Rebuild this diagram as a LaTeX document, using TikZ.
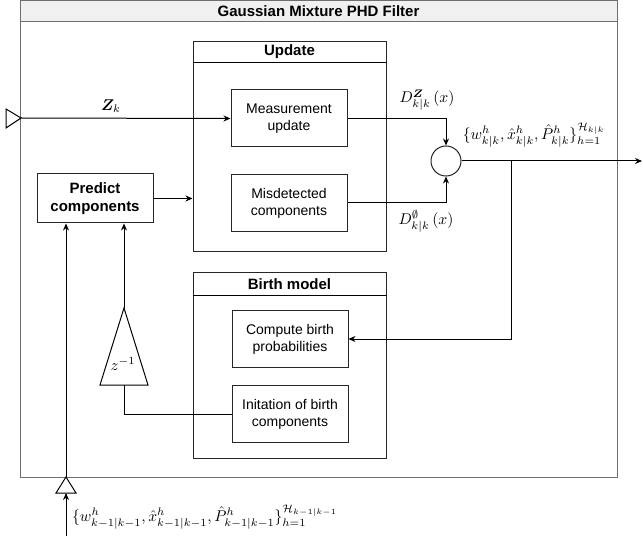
\documentclass[tikz,border=0pt]{standalone}
\usepackage{amsmath,bm}
\usepackage{fontspec}
\setmainfont{Liberation Sans}
\definecolor{framegray}{HTML}{6E6E6E}
\definecolor{headfill}{HTML}{F0F0F0}
\usetikzlibrary{calc, arrows.meta}

\tikzset{
  block/.style={draw=black!85, line width=1pt, minimum width=116pt, minimum height=57pt,
    align=center, inner sep=2pt, font=\fontsize{14}{17}\selectfont},
  group/.style={draw=black!85, line width=1pt, minimum width=193pt},
  head/.style={font=\fontsize{15}{18}\selectfont\bfseries},
  flow/.style={line width=1pt, -{Stealth[length=7pt,width=6pt]}},
  wire/.style={line width=1pt},
  mathlbl/.style={scale=1.56, inner sep=1pt},
}

\begin{document}
\begin{tikzpicture}[x=1pt, y=-1pt]
\useasboundingbox (0,0) rectangle (643,540);

% Outer frame with title bar
\draw[framegray, line width=1pt, fill=white] (20,1) rectangle (617,477);
\draw[framegray, line width=1pt, fill=headfill] (20,1) rectangle (617,22);
\node[head] (title) at (318.5,11.5) {Gaussian Mixture PHD Filter};

% Update group
\node[group, minimum height=210pt] (update) at (289.5,147) {};
\draw[wire] ($(update.north west)+(0,21)$) -- ($(update.north east)+(0,21)$);
\node[head] (updhead) at ($(update.north)+(0,10.5)$) {Update};

% Birth model group
\node[group, minimum height=185pt] (birth) at (289.5,365.5) {};
\draw[wire] ($(birth.north west)+(0,23)$) -- ($(birth.north east)+(0,23)$);
\node[head] (birthhead) at ($(birth.north)+(0,11.5)$) {Birth model};

% Blocks
\node[block] (meas) at (289,118.5) {Measurement\\update};
\node[block] (misd) at (289,203) {Misdetected\\components};
\node[block] (comp) at (290,339) {Compute birth\\probabilities};
\node[block] (init) at (290,414) {Initation of birth\\components};
\node[block, minimum height=49pt, font=\fontsize{15}{18}\selectfont\bfseries] (pred) at (95,198.5) {Predict\\components};

% Summation point
\node[draw=black!85, line width=1pt, circle, minimum size=30pt, inner sep=0pt] (sum) at (446,161) {};

% Input ports
\coordinate (zin) at (21,118);
\draw[wire, fill=white] (zin) -- (6,109) -- (6,128) -- cycle;
\coordinate (xin) at (66,477);
\coordinate (xinbase) at (66,493);
\coordinate (xsrc) at (66,536);
\draw[wire, fill=white] (xin) -- (56,493) -- (76,493) -- cycle;

% Delay element
\coordinate (dtop) at (124,308);
\coordinate (dbase) at (124,385);
\draw[wire, fill=white] (dtop) -- (148,385) -- (100,385) -- cycle;
\node[mathlbl] (delay) at (123,364) {$z^{-1}$};

% Connectors
\draw[flow] (zin) -- (meas.west);
\node[mathlbl] (zlbl) at (111,106) {$\bm{Z}_k$};
\draw[flow] (meas.east) -| (sum.north);
\node[mathlbl] (dz) at (427,100) {$D^{\bm{Z}}_{k|k}\,(x)$};
\draw[flow] (misd.east) -| (sum.south);
\node[mathlbl] (dnull) at (426,221) {$D^{\emptyset}_{k|k}\,(x)$};
\draw[flow] (pred.east) -- (pred.east -| update.west);

\coordinate (out) at (642,161);
\coordinate (split) at (511,161);
\draw[flow] (sum.east) -- (out);
\draw[flow] (split) |- (comp.east);
\node[mathlbl] (xout) at (534,135) {$\{w^h_{k|k},\hat{x}^h_{k|k},\hat{P}^h_{k|k}\}^{\mathcal{H}_{k|k}}_{h=1}$};

\draw[wire] (init.west) -| (dbase);
\draw[flow] (dtop) -- (dtop |- pred.south);
\draw[flow] (xsrc) -- (xinbase);
\draw[flow] (xin) -- (xin |- pred.south);
\node[mathlbl] (xprev) at (205,517) {$\{w^h_{k-1|k-1},\hat{x}^h_{k-1|k-1},\hat{P}^h_{k-1|k-1}\}^{\mathcal{H}_{k-1|k-1}}_{h=1}$};

\end{tikzpicture}
\end{document}
